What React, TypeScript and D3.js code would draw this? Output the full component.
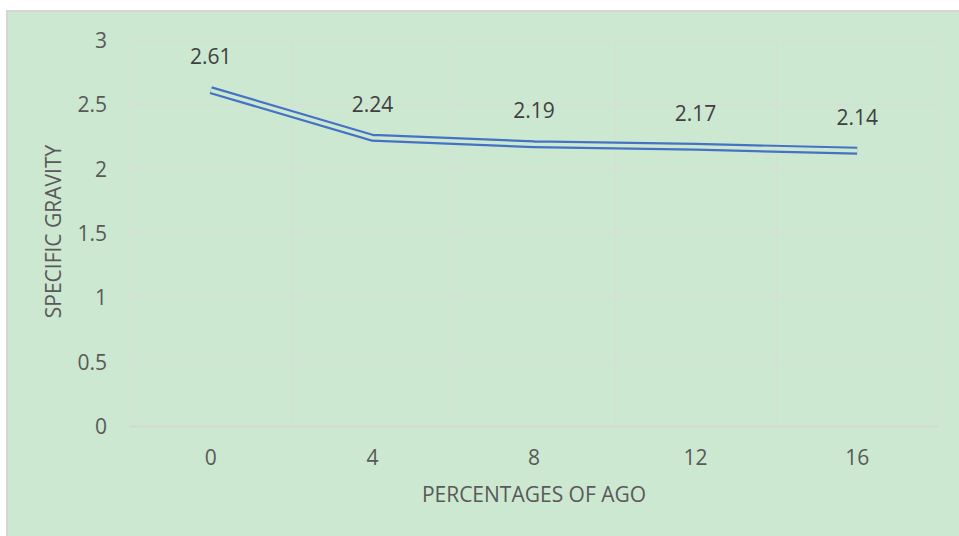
import React from "react";
import * as d3 from "d3";

const categories: string[] = ["0", "4", "8", "12", "16"];
const values: number[] = [2.61, 2.24, 2.19, 2.17, 2.14];
const labels: string[] = ["2.61", "2.24", "2.19", "2.17", "2.14"];
const yTicks: number[] = [0, 0.5, 1, 1.5, 2, 2.5, 3];
const xTitle = "PERCENTAGES OF AGO";
const yTitle = "SPECIFIC GRAVITY";

const W = 959;
const H = 536;
const plot = { left: 130, right: 938, top: 40, bottom: 426 };
const BG = "#cde8d1";
const FONT = "'Open Sans', sans-serif";
const FS = 21;

export default function App() {
  const x = d3
    .scaleBand<string>()
    .domain(categories)
    .range([plot.left, plot.right])
    .paddingInner(0)
    .paddingOuter(0);
  const y = d3.scaleLinear().domain([0, 3]).range([plot.bottom, plot.top]);
  const cx = (c: string) => (x(c) as number) + x.bandwidth() / 2;

  const line = d3
    .line<number>()
    .x((_, i) => cx(categories[i]))
    .y((d) => y(d));
  const path = line(values) as string;

  const boundaries = categories.map((c) => x(c) as number).concat([plot.right]);

  return (
    <svg
      width={W}
      height={H}
      style={{ position: "absolute", left: 0, top: 0, display: "block" }}
      fontFamily={FONT}
    >
      <rect x={0} y={0} width={W} height={H} fill="#ffffff" />
      <rect x={6} y={10} width={W - 6} height={H - 10} fill={BG} />
      <line x1={7} y1={10} x2={7} y2={H} stroke="#d6d6d6" strokeWidth={2} />
      <line x1={6} y1={11} x2={W} y2={11} stroke="#d6d6d6" strokeWidth={2} />

      {/* horizontal gridlines */}
      {yTicks.map((t) => (
        <line
          key={"h" + t}
          x1={plot.left}
          x2={plot.right}
          y1={Math.round(y(t)) + 0.5}
          y2={Math.round(y(t)) + 0.5}
          stroke="#d8ddd6"
          strokeWidth={1}
        />
      ))}
      {/* vertical gridlines */}
      {boundaries.map((b, i) => (
        <line
          key={"v" + i}
          x1={Math.round(b) + 0.5}
          x2={Math.round(b) + 0.5}
          y1={plot.top}
          y2={plot.bottom}
          stroke="#d8ddd6"
          strokeWidth={1}
        />
      ))}
      {/* bottom axis line */}
      <line
        x1={plot.left}
        x2={plot.right}
        y1={Math.round(y(0)) + 0.5}
        y2={Math.round(y(0)) + 0.5}
        stroke="#d4d4d4"
        strokeWidth={1.5}
      />

      {/* y tick labels */}
      {yTicks.map((t) => (
        <text
          key={"yt" + t}
          x={107}
          y={y(t)}
          textAnchor="end"
          dominantBaseline="central"
          fontSize={FS}
          fill="#595959"
        >
          {String(t)}
        </text>
      ))}
      {/* x tick labels */}
      {categories.map((c) => (
        <text
          key={"xt" + c}
          x={cx(c)}
          y={465}
          textAnchor="middle"
          fontSize={FS}
          fill="#595959"
        >
          {c}
        </text>
      ))}

      {/* double line */}
      <path d={path} fill="none" stroke="#4472c4" strokeWidth={8} strokeLinejoin="miter" />
      <path d={path} fill="none" stroke={BG} strokeWidth={3.6} strokeLinejoin="miter" />

      {/* data labels */}
      {values.map((v, i) => (
        <text
          key={"dl" + i}
          x={cx(categories[i])}
          y={y(v) - 26}
          textAnchor="middle"
          fontSize={FS}
          fill="#404040"
        >
          {labels[i]}
        </text>
      ))}

      {/* axis titles */}
      <text x={534} y={501.5} textAnchor="middle" fontSize={FS} fill="#595959">
        {xTitle}
      </text>
      <text
        transform={`translate(61,231.5) rotate(-90)`}
        textAnchor="middle"
        fontSize={FS}
        fill="#595959"
      >
        {yTitle}
      </text>
    </svg>
  );
}
